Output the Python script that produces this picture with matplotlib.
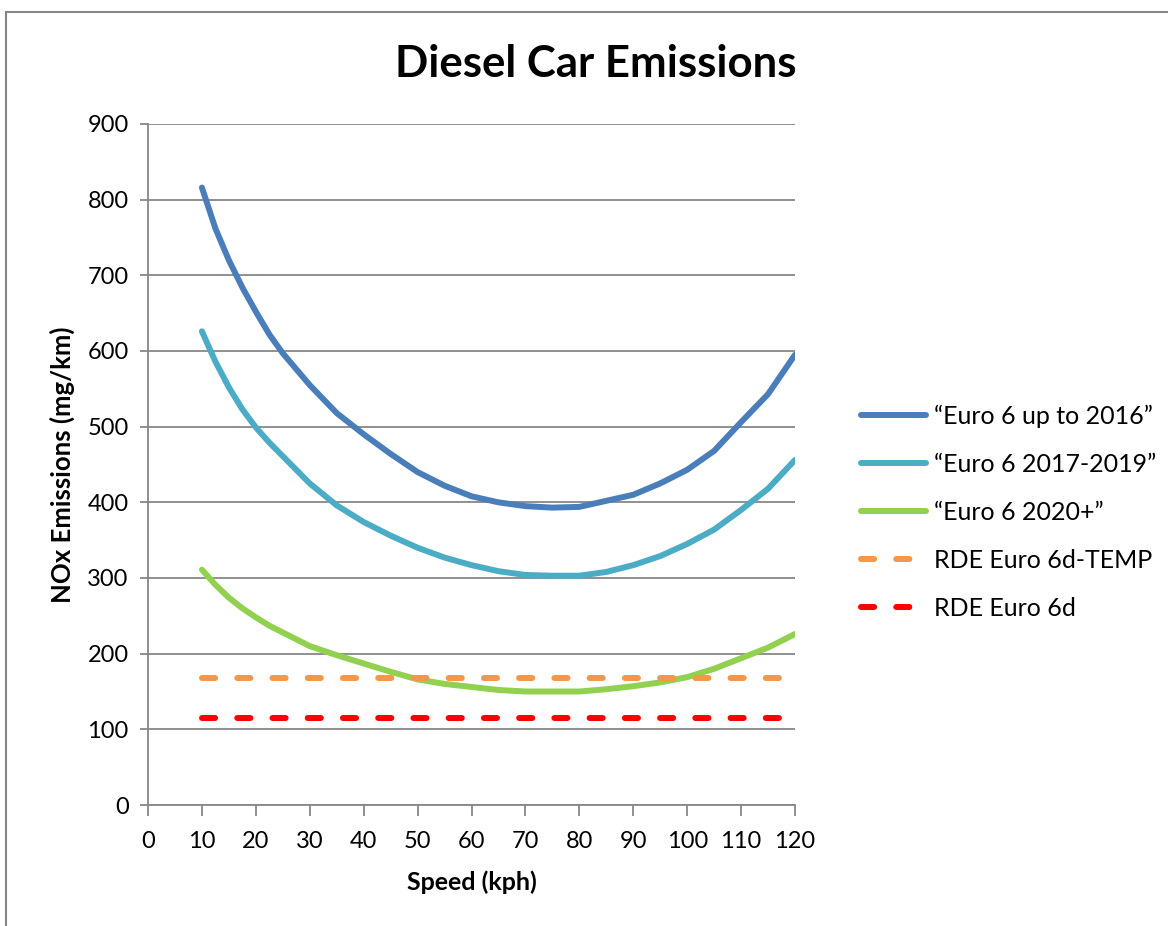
import numpy as np
import matplotlib.pyplot as plt
from matplotlib.lines import Line2D

plt.rcParams['font.family'] = ['Lato', 'DejaVu Sans']

# speed in kph
speed = [10, 12.5, 15, 17.5, 20, 22.5, 25, 30, 35, 40, 45, 50, 55, 60, 65,
         70, 75, 80, 85, 90, 95, 100, 105, 110, 115, 120]

# NOx emissions in mg/km
euro6_to_2016 = [816, 762, 720, 684, 652, 622, 597, 555, 518, 490, 464, 440,
                 422, 408, 400, 395, 393, 394, 402, 410, 425, 443, 468, 506,
                 543, 595]
euro6_2017_2019 = [626, 586, 552, 523, 499, 479, 461, 425, 396, 374, 356, 340,
                   327, 317, 309, 304, 303, 303, 308, 317, 329, 345, 364, 390,
                   418, 456]
euro6_2020 = [311, 291, 274, 260, 248, 237, 228, 210, 198, 187, 176, 166,
              160, 156, 152, 150, 150, 150, 153, 157, 162, 169, 180, 194,
              208, 226]

rde_6d_temp = 168
rde_6d = 114.4

labels = ['\u201cEuro 6 up to 2016\u201d', '\u201cEuro 6 2017-2019\u201d',
          '\u201cEuro 6 2020+\u201d', 'RDE Euro 6d-TEMP', 'RDE Euro 6d']
colors = ['#4A7EBB', '#4BACC6', '#92D050', '#F79646', '#FF0000']

W, H = 1168, 926
fig = plt.figure(figsize=(W / 100, H / 100), dpi=100)
ax = fig.add_axes([148 / W, 1 - 805 / H, (795 - 148) / W, (805 - 124) / H])

lw = 4.3
series = [euro6_to_2016, euro6_2017_2019, euro6_2020]
for vals, lab, c in zip(series, labels[:3], colors[:3]):
    ax.plot(speed, vals, color=c, lw=lw, label=lab,
            solid_capstyle='round', solid_joinstyle='round')

flat = [rde_6d_temp, rde_6d]
for val, lab, c in zip(flat, labels[3:], colors[3:]):
    ax.plot([speed[0], speed[-1]], [val, val], color=c, lw=lw, label=lab,
            dashes=(2.2, 3.7), dash_capstyle='round')

grid_c = '#878787'
ax.set_xlim(0, 120)
ax.set_ylim(0, 900)
ax.set_xticks(np.arange(0, 121, 10))
ax.set_yticks(np.arange(0, 901, 100))
ax.yaxis.grid(True, color=grid_c, lw=1.3)
ax.set_axisbelow(True)
for s in ['top', 'right']:
    ax.spines[s].set_visible(False)
for s in ['left', 'bottom']:
    ax.spines[s].set_color(grid_c)
    ax.spines[s].set_linewidth(1.3)
ax.tick_params(axis='x', direction='out', length=8, width=1.3, color=grid_c,
               labelsize=17, pad=11)
ax.tick_params(axis='y', direction='out', length=6, width=1.3, color=grid_c,
               labelsize=17, pad=8)

ax.set_xlabel('Speed (kph)', fontsize=18, fontweight='bold', va='center')
ax.xaxis.set_label_coords(0.5, -(882 - 805) / 681)
ax.set_ylabel('NOx Emissions (mg/km)', fontsize=18.5, fontweight='bold', va='center')
ax.yaxis.set_label_coords(-(148 - 62) / 647, 0.5)
fig.text(596 / W, 1 - 64 / H, 'Diesel Car Emissions', fontsize=31.5,
         fontweight='bold', ha='center', va='center')

ax.legend(loc='upper left', bbox_to_anchor=(848 / W, 1 - 392 / H),
          bbox_transform=fig.transFigure, frameon=False, fontsize=18,
          handlelength=2.6, handletextpad=0.35, labelspacing=1.0, borderpad=0)

# outer chart frame
fig.add_artist(Line2D([5.5 / W, 5.5 / W], [0, 1 - 12 / H], color=grid_c,
                      lw=1.5, transform=fig.transFigure))
fig.add_artist(Line2D([5.5 / W, 1], [1 - 12 / H, 1 - 12 / H], color=grid_c,
                      lw=1.5, transform=fig.transFigure))

fig.savefig('out.png', dpi=100)
